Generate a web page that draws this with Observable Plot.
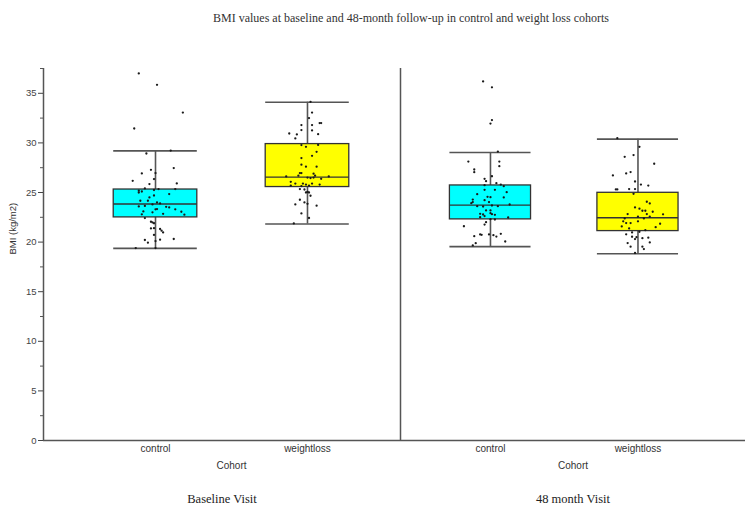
<!DOCTYPE html>
<html>
<head>
<meta charset="utf-8">
<script src="https://cdn.jsdelivr.net/npm/d3@7"></script>
<script src="https://cdn.jsdelivr.net/npm/@observablehq/plot@0.6"></script>
<style>
  html, body { margin: 0; padding: 0; background: #fff; }
  #wrap { width: 755px; height: 513px; position: relative; overflow: hidden; }
  #title { height: 40px; box-sizing: border-box; padding: 10px 0 0 67px; width: 755px; text-align: center;
           font: 12px "Liberation Serif", "Times New Roman", serif; line-height: 16px; color: #333; }
  #row { display: flex; flex-direction: row; }
  #row svg { display: block; }
</style>
</head>
<body>
<div id="wrap">
  <div id="title">BMI values at baseline and 48-month follow-up in control and weight loss cohorts</div>
  <div id="row"></div>
</div>
<script>
// ---- data ----
const visits = ["Baseline Visit", "48 month Visit"];
const cohorts = ["control", "weightloss"];
const yTicks = [0, 5, 10, 15, 20, 25, 30, 35];

// box statistics, order: [baseline control, baseline weightloss, 48m control, 48m weightloss]
const lowerWhisker = [19.37, 21.82, 19.54, 18.83];
const q1 = [22.49, 25.55, 22.29, 21.11];
const median = [23.84, 26.55, 23.73, 22.46];
const q3 = [25.30, 29.88, 25.71, 24.97];
const upperWhisker = [29.20, 34.10, 29.03, 30.38];

// individual BMI values (with horizontal jitter in category units)
const baseControlBMI = [28.93, 29.23, 26.96, 26.92, 27.29, 27.46, 26.18, 25.85, 25.91, 26.35, 25.18, 25.10, 25.00, 25.41, 25.25, 25.35, 25.35, 24.50, 24.70, 24.84, 24.17, 24.17, 24.00, 23.90, 23.80, 23.56, 23.50, 23.65, 23.60, 23.30, 23.33, 23.30, 23.09, 23.00, 23.06, 22.76, 22.80, 22.85, 22.42, 22.05, 21.98, 21.90, 21.38, 21.40, 21.32, 21.15, 20.98, 20.72, 20.21, 19.94, 20.24, 20.31, 20.10, 19.40, 19.40, 37.00, 35.85, 33.06, 31.45];
const baseControlJit = [-0.06, 0.10, 0, -0.09, -0.03, 0.12, -0.15, -0.04, 0.14, -0.01, -0.11, -0.09, -0.11, -0.07, -0.01, 0.02, 0.13, -0.04, -0.01, 0.09, -0.10, -0.05, 0.01, 0.03, -0.02, 0.07, 0.09, -0.07, -0.11, 0, 0.01, 0.13, -0.08, -0.02, 0.17, 0.19, -0.09, 0.05, -0.07, -0.03, -0.02, -0.01, -0.03, -0.01, 0.03, 0.04, 0.05, -0.01, -0.07, -0.05, 0.03, 0.12, 0, -0.13, 0, -0.11, 0.01, 0.18, -0.14];

const baseWeightBMI = [34.14, 33.06, 32.50, 32.00, 32.00, 31.80, 31.80, 31.29, 31.26, 30.95, 30.85, 30.88, 30.45, 29.78, 29.60, 29.80, 29.10, 28.70, 28.47, 27.80, 27.60, 27.60, 26.96, 26.96, 26.90, 26.70, 26.70, 26.50, 26.45, 26.62, 26.62, 26.50, 26.38, 26.08, 25.90, 25.90, 25.80, 25.90, 25.80, 25.70, 25.65, 25.70, 25.35, 25.30, 25.07, 25.00, 25.00, 24.67, 24.27, 24.00, 23.80, 23.86, 23.67, 22.89, 22.43, 21.88];
const baseWeightJit = [0.02, 0.03, 0.01, 0.08, 0.09, -0.04, 0.03, -0.04, 0.03, -0.12, -0.07, 0.07, -0.08, -0.04, -0.01, 0.07, 0.06, 0.03, -0.04, -0.04, -0.01, 0.06, -0.05, -0.04, 0.04, 0.05, -0.06, 0, 0.02, -0.14, 0.14, 0.04, 0.09, -0.11, -0.08, -0.03, -0.01, 0.03, 0.08, -0.11, -0.04, 0.01, -0.05, -0.02, 0, -0.01, 0.01, 0.02, -0.05, -0.02, -0.08, 0, 0.06, -0.04, 0.01, -0.09];

const m48ControlBMI = [29.13, 28.12, 28.12, 27.65, 27.32, 27.05, 26.64, 26.38, 26.14, 25.94, 25.80, 25.74, 24.83, 25.27, 25.27, 25.64, 25.03, 24.56, 24.53, 24.50, 24.29, 24.23, 24.03, 23.92, 24.03, 23.62, 23.59, 23.69, 23.62, 23.79, 23.19, 23.19, 22.85, 22.78, 22.92, 22.82, 22.75, 22.62, 22.51, 22.48, 22.28, 22.31, 22.01, 21.77, 21.60, 20.73, 20.77, 20.60, 20.77, 20.70, 20.56, 20.83, 20.06, 19.89, 19.66, 36.20, 35.60, 32.30, 31.95];
const m48ControlJit = [0.05, -0.15, 0.06, 0.06, -0.11, -0.11, 0.01, -0.04, -0.03, 0.04, 0.07, -0.04, -0.09, -0.04, 0.03, 0.09, 0.11, -0.02, 0, 0.09, -0.12, -0.04, -0.12, -0.13, -0.01, -0.09, -0.05, 0.01, 0.05, 0.13, -0.03, 0, -0.07, -0.05, 0, 0.01, 0.03, -0.04, -0.07, 0.12, 0.03, 0, -0.03, -0.04, -0.18, -0.06, -0.07, -0.11, -0.01, 0.02, 0.04, 0.07, 0.10, -0.10, -0.12, -0.05, 0.01, 0.01, 0];

const m48WeightBMI = [30.48, 29.60, 28.60, 28.77, 27.90, 26.72, 26.92, 27.06, 26.11, 25.80, 25.70, 25.31, 25.31, 25.35, 25.35, 24.87, 24.07, 23.90, 23.50, 23.37, 23.16, 23.06, 23.16, 22.83, 22.83, 22.80, 22.56, 22.56, 22.39, 22.39, 22.09, 21.92, 21.92, 22.09, 21.85, 21.58, 21.38, 21.50, 21.20, 20.98, 21.04, 20.78, 20.54, 20.40, 20.45, 20.30, 19.97, 19.90, 19.54, 19.30, 19.54, 18.90, 20.50];
const m48WeightJit = [-0.14, 0.01, -0.09, -0.03, 0.11, -0.17, -0.08, -0.05, -0.02, 0.02, 0.07, -0.15, -0.14, -0.06, -0.02, -0.03, 0.06, 0.08, -0.02, 0.01, 0.03, 0.10, 0.05, -0.07, 0.06, 0.17, 0, 0.08, 0.04, -0.09, -0.10, -0.08, -0.05, 0, 0.15, -0.11, -0.06, 0.12, 0.05, -0.04, 0.01, -0.08, -0.04, 0.03, 0.07, -0.02, 0.08, -0.07, 0.03, 0.04, -0.05, -0.02, -0.01];

// ---- build tables ----
const groupBMI = [[baseControlBMI, baseWeightBMI], [m48ControlBMI, m48WeightBMI]];
const groupJit = [[baseControlJit, baseWeightJit], [m48ControlJit, m48WeightJit]];

function panel(v, cfg) {
  const boxes = cohorts.map((c, i) => {
    const k = v * 2 + i;
    return {cohort: c, idx: i, lo: lowerWhisker[k], q1: q1[k], med: median[k], q3: q3[k], hi: upperWhisker[k]};
  });
  const pts = [];
  cohorts.forEach((c, i) => {
    groupBMI[v][i].forEach((b, j) => pts.push({cohort: c, idx: i, bmi: b, jit: groupJit[v][i][j]}));
  });
  const hw = 0.275;
  const cohortLabel = cfg.labelBetween
    ? Plot.text(["Cohort"], {text: d => d, x: () => 0.5, frameAnchor: "bottom", lineAnchor: "top", dy: 21, fontSize: 10, fill: "#333"})
    : Plot.text(["Cohort"], {text: d => d, frameAnchor: "bottom", lineAnchor: "top", dy: 21, fontSize: 10, fill: "#333"});
  const marks = [
    Plot.ruleY([0], {stroke: "#555", strokeWidth: 1.5}),
    Plot.ruleX(boxes, {x: "idx", y1: "lo", y2: "hi", stroke: "#555", strokeWidth: 1.6}),
    Plot.ruleY(boxes, {x1: d => d.idx - hw, x2: d => d.idx + hw, y: "lo", stroke: "#555", strokeWidth: 1.6}),
    Plot.ruleY(boxes, {x1: d => d.idx - hw, x2: d => d.idx + hw, y: "hi", stroke: "#555", strokeWidth: 1.6}),
    Plot.rect(boxes, {x1: d => d.idx - hw, x2: d => d.idx + hw, y1: "q1", y2: "q3", fill: "cohort", stroke: "#333", strokeWidth: 1.3}),
    Plot.ruleY(boxes, {x1: d => d.idx - hw, x2: d => d.idx + hw, y: "med", stroke: "#333", strokeWidth: 1.4}),
    Plot.dot(pts, {x: d => d.idx + d.jit, y: "bmi", r: 1.15, fill: "#1a1a1a", stroke: null}),
    Plot.ruleX([cfg.xDomain[0]], {stroke: "#555", strokeWidth: 1.5}),
    Plot.axisX({ticks: [0, 1], tickFormat: i => cohorts[i], tickSize: 0, tickPadding: 4, fontSize: 10, color: "#333", label: null}),
    cohortLabel,
    Plot.text([visits[v]], {text: d => d, frameAnchor: "bottom", lineAnchor: "top", dy: 54, fontSize: 12.5, fill: "#222", fontFamily: "Liberation Serif, Times New Roman, serif"})
  ];
  if (cfg.showY) {
    marks.push(
      Plot.axisY({ticks: yTicks, tickSize: 5, tickPadding: 2, fontSize: 9.5, color: "#444", label: null}),
      Plot.axisY({ticks: yTicks.map(t => t + 2.5), tickSize: 3, tickFormat: () => "", color: "#555", label: null}),
      Plot.text(["BMI (kg/m2)"], {text: d => d, frameAnchor: "left", rotate: -90, dx: -31, fontSize: 9.5, fill: "#333"})
    );
  }
  return Plot.plot({
    width: cfg.width,
    height: 473,
    marginTop: 28,
    marginBottom: 73,
    marginLeft: cfg.marginLeft,
    marginRight: cfg.marginRight,
    x: {type: "linear", domain: cfg.xDomain, axis: null},
    y: {domain: [0, 37.5], axis: null},
    color: {domain: cohorts, range: ["#00FFFF", "#FFFF00"]},
    style: {fontFamily: "Liberation Sans, Arial, sans-serif", fontSize: "10px", background: "white", overflow: "visible"},
    marks
  });
}

const row = document.getElementById("row");
row.appendChild(panel(0, {width: 400, marginLeft: 43, marginRight: 0, xDomain: [-0.737, 1.612], showY: true, labelBetween: true}));
row.appendChild(panel(1, {width: 355, marginLeft: 0, marginRight: 10, xDomain: [-0.61, 1.729], showY: false, labelBetween: false}));
</script>
</body>
</html>
